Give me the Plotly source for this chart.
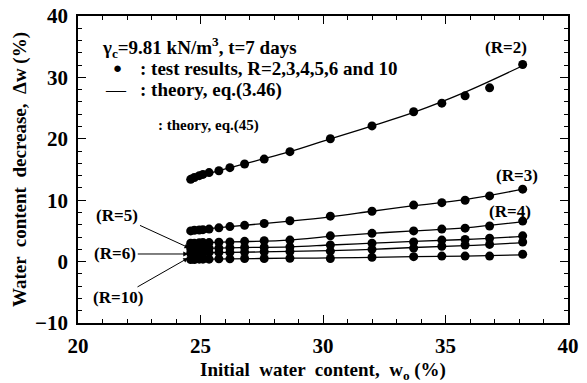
import plotly.graph_objects as go

# ---- data ----
w0 = [24.6, 24.75, 24.95, 25.1, 25.35, 25.75, 26.2, 26.8, 27.6, 28.65,
      30.3, 32.0, 33.7, 34.85, 35.8, 36.8, 38.15]
test_R2 = [13.4, 13.7, 14.0, 14.2, 14.5, 14.8, 15.3, 15.9, 16.7, 17.9,
           20.0, 22.1, 24.4, 25.8, 27.0, 28.3, 32.1]
test_R3 = [5.0, 5.1, 5.15, 5.2, 5.3, 5.5, 5.7, 5.9, 6.2, 6.65,
           7.4, 8.2, 9.2, 9.6, 10.0, 10.7, 11.8]
test_R4 = [3.0, 3.0, 3.05, 3.1, 3.1, 3.15, 3.2, 3.3, 3.4, 3.5,
           4.2, 4.6, 5.0, 5.3, 5.45, 5.8, 6.6]
test_R5 = [2.1, 2.1, 2.15, 2.15, 2.2, 2.2, 2.25, 2.3, 2.35, 2.4,
           2.7, 3.0, 3.2, 3.5, 3.6, 3.8, 4.2]
test_R6 = [1.4, 1.4, 1.45, 1.45, 1.5, 1.5, 1.5, 1.55, 1.6, 1.65,
           1.7, 2.0, 2.2, 2.5, 2.7, 2.8, 3.2]
test_R10 = [0.35, 0.35, 0.4, 0.4, 0.4, 0.45, 0.45, 0.5, 0.5, 0.55,
            0.5, 0.7, 0.8, 0.9, 0.9, 0.9, 1.2]

theory_x = [24.6, 26.2, 28.65, 30.3, 32.0, 33.7, 35.8, 38.15]
theory_R2 = [13.5, 15.3, 17.9, 20.0, 22.1, 24.3, 27.6, 31.9]
theory_R3 = [5.1, 5.7, 6.6, 7.3, 8.2, 9.1, 10.1, 11.8]
theory_R4 = [3.0, 3.2, 3.5, 4.1, 4.6, 5.0, 5.5, 6.5]
theory_R5 = [2.1, 2.25, 2.4, 2.7, 3.0, 3.3, 3.6, 4.1]
theory_R6 = [1.4, 1.5, 1.65, 1.8, 2.0, 2.3, 2.6, 3.1]
theory_R10 = [0.35, 0.45, 0.55, 0.6, 0.7, 0.8, 0.9, 1.1]

tests = [test_R2, test_R3, test_R4, test_R5, test_R6, test_R10]
theories = [theory_R2, theory_R3, theory_R4, theory_R5, theory_R6, theory_R10]

SERIF = "Liberation Serif, Times New Roman, Times, serif"

fig = go.Figure()
for th in theories:
    fig.add_trace(go.Scatter(x=theory_x, y=th, mode="lines",
                             line=dict(color="black", width=1.3, shape="spline"),
                             showlegend=False, hoverinfo="skip"))
for t in tests:
    fig.add_trace(go.Scatter(x=w0, y=t, mode="markers",
                             marker=dict(color="black", size=9),
                             showlegend=False))

ann_font = dict(family=SERIF, size=17, color="black", weight="bold")
leg_font = dict(family=SERIF, size=19, color="black", weight="bold")
annotations = [
    dict(x=20.9, y=34.8, text="γ<sub>c</sub>=9.81 kN/m<sup>3</sup>, t=7 days",
         xanchor="left", yanchor="middle", showarrow=False, font=leg_font),
    dict(x=21.6, y=31.5, text="●", xanchor="center", yanchor="middle",
         showarrow=False, font=dict(family=SERIF, size=15, color="black")),
    dict(x=22.45, y=31.5, text=": test results, R=2,3,4,5,6 and 10",
         xanchor="left", yanchor="middle", showarrow=False, font=leg_font),
    dict(x=21.55, y=28.0, text="—", xanchor="center", yanchor="middle",
         showarrow=False, font=dict(family=SERIF, size=20, color="black")),
    dict(x=22.45, y=28.0, text=": theory, eq.(3.46)",
         xanchor="left", yanchor="middle", showarrow=False, font=leg_font),
    dict(x=23.2, y=22.1, text=": theory, eq.(45)",
         xanchor="left", yanchor="middle", showarrow=False,
         font=dict(family=SERIF, size=15, color="black", weight="bold")),
    dict(x=37.45, y=34.8, text="(R=2)", showarrow=False, font=ann_font),
    dict(x=37.9, y=14.1, text="(R=3)", showarrow=False, font=ann_font),
    dict(x=37.65, y=8.1, text="(R=4)", showarrow=False, font=ann_font),
    dict(x=24.55, y=2.2, text="(R=5)", showarrow=True, ax=-72, ay=-33,
         arrowhead=2, arrowsize=1, arrowwidth=1, arrowcolor="black", font=ann_font),
    dict(x=24.5, y=1.24, text="(R=6)", showarrow=True, ax=-73, ay=0,
         arrowhead=2, arrowsize=1, arrowwidth=1, arrowcolor="black", font=ann_font),
    dict(x=24.5, y=0.6, text="(R=10)", showarrow=True, ax=-70, ay=40,
         arrowhead=2, arrowsize=1, arrowwidth=1, arrowcolor="black", font=ann_font),
]

axis_common = dict(
    showgrid=False, zeroline=False, showline=True, linecolor="black", linewidth=1.5,
    mirror="allticks", ticks="inside", ticklen=8, tickwidth=1.2, tickcolor="black",
    automargin=False,
    tickfont=dict(family=SERIF, size=21, color="black", weight="bold"),
)

fig.update_layout(
    width=587, height=383,
    margin=dict(l=78, r=19, t=16, b=60),
    plot_bgcolor="white", paper_bgcolor="white",
    showlegend=False,
    annotations=annotations,
    xaxis=dict(range=[20, 40], dtick=5, tick0=20, ticklabelstandoff=3,
               minor=dict(ticks="inside", dtick=1, ticklen=4, tickcolor="black"),
               title=dict(text="Initial  water  content,  w<sub>o</sub> (%)",
                          font=dict(family=SERIF, size=19, color="black", weight="bold"),
                          standoff=10),
               **axis_common),
    yaxis=dict(range=[-10, 40], dtick=10, tick0=-10, ticklabelstandoff=4,
               minor=dict(ticks="inside", dtick=2, ticklen=4, tickcolor="black"),
               title=dict(text="Water  content  decrease,  Δw (%)",
                          font=dict(family=SERIF, size=19, color="black", weight="bold"),
                          standoff=3),
               **axis_common),
)

fig.write_html("out.html")
